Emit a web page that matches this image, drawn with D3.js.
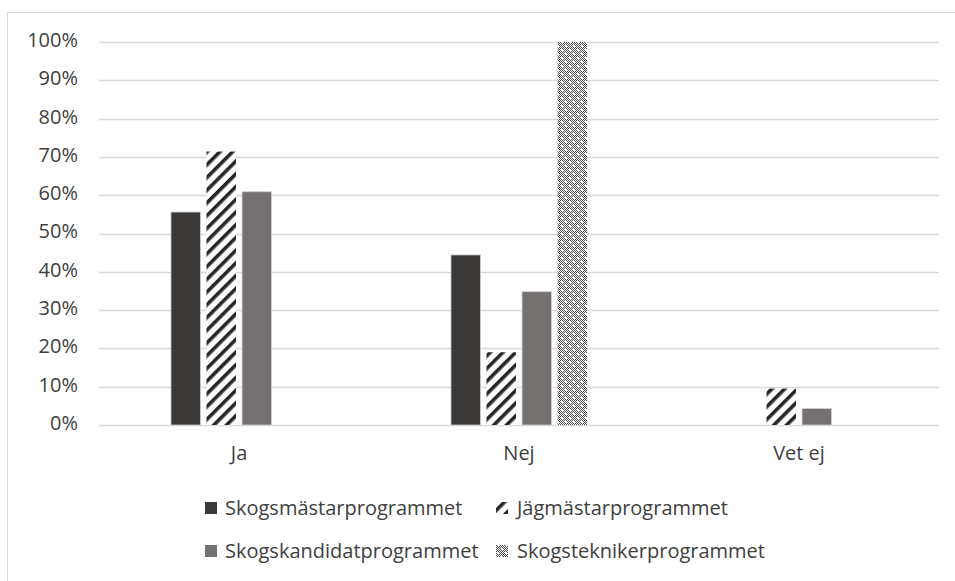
<!DOCTYPE html>
<html>
<head>
<meta charset="utf-8">
<script src="https://cdn.jsdelivr.net/npm/d3@7"></script>
<style>
  body { margin: 0; background: #fff; }
  text { font-family: "Open Sans", "Noto Sans", sans-serif; fill: #404040; }
</style>
</head>
<body>
<script>
// chart size
var width = 955;
var height = 581;

// data
var categories = ["Ja", "Nej", "Vet ej"];
var series = ["Skogsmästarprogrammet", "Jägmästarprogrammet", "Skogskandidatprogrammet", "Skogsteknikerprogrammet"];
var skogsmastar = [0.556, 0.444, 0];
var jagmastar = [0.714, 0.190, 0.095];
var skogskandidat = [0.609, 0.348, 0.043];
var skogstekniker = [0, 1.0, 0];
var yTicks = [0, 0.1, 0.2, 0.3, 0.4, 0.5, 0.6, 0.7, 0.8, 0.9, 1.0];

var values = [skogsmastar, jagmastar, skogskandidat, skogstekniker];
var fills = ["#3b3838", "url(#hatch)", "#767171", "url(#dots)"];

var svg = d3.select("body")
    .append("svg")
    .attr("width", width)
    .attr("height", height);

var defs = svg.append("defs");

// wide upward diagonal
var hatch = defs.append("pattern")
    .attr("id", "hatch")
    .attr("patternUnits", "userSpaceOnUse")
    .attr("width", 9)
    .attr("height", 9)
    .attr("patternTransform", "rotate(45)");
hatch.append("rect").attr("width", 9).attr("height", 9).attr("fill", "#fff");
hatch.append("rect").attr("width", 3.6).attr("height", 9).attr("fill", "#262626");

// fine dotted pattern with white spots
var dots = defs.append("pattern")
    .attr("id", "dots")
    .attr("patternUnits", "userSpaceOnUse")
    .attr("width", 8)
    .attr("height", 8);
dots.append("rect").attr("width", 8).attr("height", 8).attr("fill", "#fff");
for (var i = 0; i < 8; i++) {
  for (var j = 0; j < 8; j++) {
    var spot = (Math.abs(i - 1.5) < 1 && Math.abs(j - 1.5) < 1) || (Math.abs(i - 5.5) < 1 && Math.abs(j - 5.5) < 1);
    if ((i + j) % 2 == 0 && !spot) {
      dots.append("rect").attr("x", i).attr("y", j).attr("width", 1).attr("height", 1).attr("fill", "#4a4a4a");
    }
  }
}

// chart border
svg.append("rect")
    .attr("x", 7.5)
    .attr("y", 12.5)
    .attr("width", 960)
    .attr("height", 600)
    .attr("fill", "none")
    .attr("stroke", "#d9d9d9");

var x0 = d3.scaleBand()
    .domain(categories)
    .range([99, 939])
    .paddingInner(0.49)
    .paddingOuter(0.245);

var x1 = d3.scaleBand()
    .domain(series)
    .range([0, x0.bandwidth()])
    .paddingInner(0.17)
    .paddingOuter(0.095);

var y = d3.scaleLinear()
    .domain([0, 1])
    .range([425, 42]);

// gridlines
svg.append("g")
    .selectAll("line")
    .data(yTicks)
    .enter()
    .append("line")
    .attr("x1", 99)
    .attr("x2", 939)
    .attr("y1", function(d) { return Math.round(y(d)) + 0.5; })
    .attr("y2", function(d) { return Math.round(y(d)) + 0.5; })
    .attr("stroke", "#d9d9d9")
    .attr("stroke-width", 1.5);

// y axis labels
var yAxis = d3.axisLeft(y)
    .tickValues(yTicks)
    .tickFormat(d3.format(".0%"))
    .tickSize(0)
    .tickPadding(0);

var gy = svg.append("g")
    .attr("transform", "translate(78,-2)")
    .call(yAxis);
gy.select(".domain").remove();
gy.selectAll("text")
    .attr("font-size", 20)
    .attr("fill", "#404040")
    .attr("font-family", null);

// bars
var groups = svg.append("g")
    .selectAll("g")
    .data(series)
    .enter()
    .append("g");

groups.selectAll("rect")
    .data(function(s, si) {
      return categories.map(function(c, ci) {
        return { cat: c, ser: s, si: si, v: values[si][ci] };
      });
    })
    .enter()
    .filter(function(d) { return d.v > 0; })
    .append("rect")
    .attr("x", function(d) { return x0(d.cat) + x1(d.ser); })
    .attr("y", function(d) { return y(d.v); })
    .attr("width", x1.bandwidth())
    .attr("height", function(d) { return y(0) - y(d.v); })
    .attr("fill", function(d) { return fills[d.si]; })
    .attr("stroke", function(d) { return (d.si == 0 || d.si == 2) ? "#cfcdcd" : "none"; })
    .attr("stroke-width", 0.8);

// x axis labels
var xAxis = d3.axisBottom(x0)
    .tickSize(0)
    .tickPadding(0);

var gx = svg.append("g")
    .attr("transform", "translate(0,446)")
    .call(xAxis);
gx.select(".domain").remove();
gx.selectAll("text")
    .attr("font-size", 20)
    .attr("fill", "#404040")
    .attr("font-family", null);

// legend
var legendPos = [[205, 508], [496, 508], [205, 551], [496, 551]];

var legend = svg.append("g")
    .selectAll("g")
    .data(series)
    .enter()
    .append("g")
    .attr("transform", function(d, i) { return "translate(" + legendPos[i][0] + "," + legendPos[i][1] + ")"; });

legend.append("rect")
    .attr("x", 0)
    .attr("y", -6)
    .attr("width", 12)
    .attr("height", 12)
    .attr("fill", function(d, i) { return fills[i]; });

legend.append("text")
    .attr("x", function(d, i) { return i % 2 == 0 ? 20 : 21; })
    .attr("y", 0)
    .attr("dy", "0.35em")
    .attr("font-size", 20)
    .text(function(d) { return d; });
</script>
</body>
</html>
